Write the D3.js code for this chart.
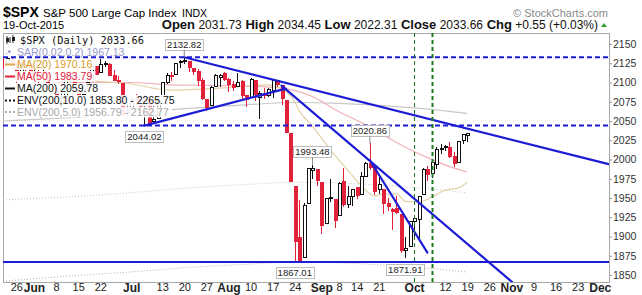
<!DOCTYPE html>
<html>
<head>
<meta charset="utf-8">
<script src="https://cdn.jsdelivr.net/npm/d3@7/dist/d3.min.js"></script>
<style>
  body { margin: 0; background: #fff; }
  svg { display: block; font-family: "Liberation Sans", Arial, sans-serif; }
</style>
</head>
<body>
<script>
// ---- daily OHLC, $SPX
var dates = [
  "2015-05-20","2015-05-21","2015-05-22","2015-05-26","2015-05-27","2015-05-28","2015-05-29",
  "2015-06-01","2015-06-02","2015-06-03","2015-06-04","2015-06-05","2015-06-08","2015-06-09","2015-06-10","2015-06-11","2015-06-12",
  "2015-06-15","2015-06-16","2015-06-17","2015-06-18","2015-06-19","2015-06-22","2015-06-23","2015-06-24","2015-06-25","2015-06-26","2015-06-29","2015-06-30",
  "2015-07-01","2015-07-02","2015-07-06","2015-07-07","2015-07-08","2015-07-09","2015-07-10","2015-07-13","2015-07-14","2015-07-15","2015-07-16","2015-07-17",
  "2015-07-20","2015-07-21","2015-07-22","2015-07-23","2015-07-24","2015-07-27","2015-07-28","2015-07-29","2015-07-30","2015-07-31",
  "2015-08-03","2015-08-04","2015-08-05","2015-08-06","2015-08-07","2015-08-10","2015-08-11","2015-08-12","2015-08-13","2015-08-14",
  "2015-08-17","2015-08-18","2015-08-19","2015-08-20","2015-08-21","2015-08-24","2015-08-25","2015-08-26","2015-08-27","2015-08-28","2015-08-31",
  "2015-09-01","2015-09-02","2015-09-03","2015-09-04","2015-09-08","2015-09-09","2015-09-10","2015-09-11","2015-09-14","2015-09-15","2015-09-16","2015-09-17","2015-09-18",
  "2015-09-21","2015-09-22","2015-09-23","2015-09-24","2015-09-25","2015-09-28","2015-09-29","2015-09-30",
  "2015-10-01","2015-10-02","2015-10-05","2015-10-06","2015-10-07","2015-10-08","2015-10-09","2015-10-12","2015-10-13","2015-10-14","2015-10-15","2015-10-16","2015-10-19"
];
var opens = [
  2127.8,2125.6,2130.4,2125.3,2105.1,2122.3,2120.7,
  2108.6,2110.4,2110.6,2112.4,2095.1,2092.3,2079.1,2081.0,2106.2,2107.4,
  2091.3,2084.3,2097.4,2101.6,2121.1,2112.5,2123.2,2123.6,2109.1,2102.6,2098.6,2061.2,
  2067.0,2078.0,2073.0,2069.5,2077.7,2049.7,2052.7,2080.0,2099.7,2109.0,2110.6,2126.8,
  2126.9,2127.6,2118.2,2114.2,2102.2,2078.2,2070.7,2094.7,2106.8,2111.6,
  2104.5,2097.7,2095.3,2100.8,2082.6,2081.0,2102.7,2081.1,2086.2,2083.2,
  2089.7,2102.0,2095.7,2076.6,2034.1,1965.2,1898.1,1872.8,1942.8,1986.1,1986.7,
  1970.1,1916.5,1950.8,1947.8,1927.3,1971.5,1941.6,1951.5,1963.1,1955.1,1978.0,1995.3,1989.7,
  1960.8,1961.4,1943.2,1934.8,1935.9,1929.2,1881.9,1887.1,
  1919.7,1921.8,1954.3,1986.6,1982.3,1994.0,2013.7,2015.7,2015.0,2003.7,1996.5,2024.4,2031.73
];
var highs = [
  2133.0,2134.3,2133.0,2126.2,2126.2,2122.3,2120.7,
  2119.2,2117.6,2121.9,2112.9,2100.0,2093.0,2085.6,2108.5,2115.0,2107.4,
  2091.3,2097.4,2106.8,2126.6,2121.6,2129.9,2128.0,2125.1,2116.0,2108.9,2098.6,2074.3,
  2082.8,2085.1,2078.6,2083.7,2077.7,2074.3,2081.3,2100.7,2112.0,2114.1,2124.4,2128.9,
  2132.82,2128.4,2118.5,2116.9,2106.0,2078.2,2095.6,2110.6,2110.5,2114.2,
  2105.7,2102.5,2112.7,2103.3,2082.6,2105.4,2102.7,2089.1,2092.9,2092.5,
  2102.9,2103.5,2096.2,2076.6,2034.1,1965.2,1948.0,1943.1,1989.6,1993.48,1986.7,
  1970.1,1948.9,1975.0,1947.8,1970.4,1988.6,1965.3,1961.1,1963.1,1983.2,1997.3,2020.86,1989.7,
  1979.6,1961.4,1949.5,1937.2,1952.9,1929.2,1899.5,1920.5,
  1927.2,1951.4,1989.2,1991.6,1999.3,2016.5,2020.1,2018.7,2022.3,2009.6,2024.2,2033.5,2034.45
];
var lows = [
  2117.7,2122.6,2126.1,2099.2,2105.1,2112.9,2104.9,
  2102.5,2099.1,2109.6,2093.2,2085.7,2079.1,2072.1,2081.0,2106.2,2091.3,
  2072.5,2082.1,2088.9,2101.6,2109.5,2112.5,2119.9,2108.0,2101.8,2098.0,2056.6,2056.3,
  2067.0,2071.0,2058.4,2044.02,2044.5,2049.7,2052.7,2080.0,2098.2,2102.5,2110.6,2119.4,
  2123.7,2114.0,2110.0,2095.3,2077.1,2063.5,2069.1,2094.1,2094.1,2102.1,
  2087.3,2088.6,2095.3,2075.5,2067.9,2081.0,2076.5,2052.1,2078.3,2080.6,
  2079.3,2094.1,2070.5,2035.7,1970.9,1867.01,1867.1,1872.8,1942.8,1975.2,1966.0,
  1903.1,1916.5,1944.7,1911.2,1927.3,1937.9,1937.2,1939.2,1948.3,1954.3,1977.9,1986.7,1953.5,
  1955.8,1929.2,1932.6,1908.9,1929.8,1879.2,1871.91,1887.1,
  1900.7,1893.7,1954.3,1972.0,1976.4,1987.5,2007.6,2010.6,2001.8,1990.7,1996.5,2020.5,2022.31
];
var closes = [
  2125.9,2130.8,2126.1,2104.2,2123.5,2120.8,2107.4,
  2111.7,2109.6,2114.1,2095.8,2092.8,2079.3,2080.2,2105.2,2108.9,2094.1,
  2084.4,2096.3,2100.4,2121.2,2110.0,2122.9,2124.2,2108.6,2102.3,2101.5,2057.6,2063.1,
  2077.4,2076.8,2068.8,2081.3,2046.7,2051.3,2076.6,2099.6,2109.0,2107.4,2124.3,2126.6,
  2128.3,2119.2,2114.2,2102.2,2079.7,2067.6,2093.3,2108.6,2108.6,2104.0,
  2098.0,2093.3,2099.8,2083.6,2077.6,2104.2,2084.1,2086.1,2083.4,2091.5,
  2102.4,2096.9,2079.6,2035.7,1970.9,1893.2,1867.6,1940.5,1987.7,1988.9,1972.2,
  1913.9,1948.9,1951.1,1921.2,1969.4,1942.0,1952.3,1961.1,1953.0,1978.1,1995.3,1990.2,1958.0,
  1967.0,1942.7,1938.8,1932.2,1931.3,1881.8,1884.1,1920.0,
  1923.8,1951.4,1987.1,1979.9,1995.8,2013.4,2014.9,2017.5,2003.7,1994.2,2023.9,2033.1,2033.66
];

// ---- overlays
var ma20 = [["2015-05-20",2105],["2015-06-01",2108],["2015-06-15",2103],["2015-06-30",2099],["2015-07-15",2090],
  ["2015-07-31",2093],["2015-08-14",2097],["2015-08-21",2083.5],["2015-08-24",2074.7],["2015-08-25",2063.5],
  ["2015-08-28",2043.3],["2015-09-01",2028],["2015-09-04",2006],["2015-09-08",1999.3],["2015-09-11",1979.4],
  ["2015-09-15",1966.2],["2015-09-18",1952.8],["2015-09-22",1955],["2015-09-25",1955.4],["2015-09-29",1945.6],
  ["2015-10-02",1944.7],["2015-10-07",1951.2],["2015-10-12",1960.2],["2015-10-15",1963.1],["2015-10-19",1970.16]];
var ma50 = [["2015-05-20",2093],["2015-06-15",2100],["2015-07-01",2100],["2015-07-15",2097],["2015-07-31",2096],
  ["2015-08-14",2094],["2015-08-20",2092],["2015-08-31",2079],["2015-09-08",2062],["2015-09-15",2048],
  ["2015-09-22",2032],["2015-09-29",2016],["2015-10-05",2005],["2015-10-12",1993],["2015-10-19",1983.79]];
var ma200 = [["2015-05-20",2050],["2015-06-15",2055],["2015-07-01",2060],["2015-07-20",2066],["2015-08-07",2071],
  ["2015-08-24",2074],["2015-09-08",2073],["2015-09-22",2070],["2015-10-05",2066],["2015-10-19",2059.78]];
var env5Lower = [["2015-05-20",1947.5],["2015-06-15",1952.3],["2015-07-01",1957],["2015-07-20",1962.7],["2015-08-07",1967.5],
  ["2015-08-24",1970.3],["2015-09-08",1969.4],["2015-09-22",1966.5],["2015-10-05",1962.7],["2015-10-19",1956.79]];
var env10Lower = [["2015-05-20",1842],["2015-06-15",1849.5],["2015-07-01",1854],["2015-07-20",1859.4],["2015-08-07",1863.9],
  ["2015-08-24",1866.6],["2015-09-08",1865.7],["2015-09-22",1863],["2015-10-05",1859.4],["2015-10-19",1853.80]];

// trend lines [date, price] -> [date, price]
var trendLines = [
  [["2015-07-20",2132.82],["2015-12-03",1994]],
  [["2015-07-07",2044.02],["2015-08-20",2092]],
  [["2015-08-19",2096],["2015-11-05",1827]],
  [["2015-09-17",1999],["2015-10-06",1879]]
];
var dashedLevels = [2132.82, 2044.02];
var solidLevels = [1867.01];
var markerDays = ["2015-10-01","2015-10-07"];

// price callouts
var callouts = [["2015-07-20",2132.82,"high"],["2015-07-07",2044.02,"low"],["2015-08-28",1993.48,"high"],
  ["2015-09-17",2020.86,"high"],["2015-08-24",1867.01,"low"],["2015-09-29",1871.91,"low"]];

var yTicks = [1850,1875,1900,1925,1950,1975,2000,2025,2050,2075,2100,2125,2150];
var xTickDays = ["2015-05-26","2015-06-01","2015-06-08","2015-06-15","2015-06-22","2015-07-01","2015-07-13","2015-07-20","2015-07-27",
  "2015-08-03","2015-08-10","2015-08-17","2015-08-24","2015-09-01","2015-09-08","2015-09-14","2015-09-21","2015-10-01",
  "2015-10-12","2015-10-19","2015-10-26","2015-11-02","2015-11-09","2015-11-16","2015-11-23","2015-12-01"];
var xTickText = ["26","Jun","8","15","22","Jul","13","20","27","Aug","10","17","24","Sep","8","14","21","Oct",
  "12","19","26","Nov","9","16","23","Dec"];

var quoteLabels = ["Open","High","Low","Close","Chg"];
var quoteValues = ["2031.73","2034.45","2022.31","2033.66","+0.55 (+0.03%)"];

// ---- layout
var svgW = 642, svgH = 295;
var plotL = 3, plotR = 609, plotT = 33, plotB = 282;

var holidays = ["2015-05-25","2015-07-03","2015-09-07","2015-11-26"];
var fmtDay = d3.utcFormat("%Y-%m-%d");
var tradingDays = d3.utcDay.range(new Date("2015-05-19"), new Date("2015-12-05"))
                    .filter(function(d){ var w = d.getUTCDay(); return w != 0 && w != 6; })
                    .map(fmtDay)
                    .filter(function(d){ return holidays.indexOf(d) < 0; });
var baseIdx = tradingDays.indexOf("2015-06-01");
var dayIdx = new Map(tradingDays.map(function(d, i){ return [d, i - baseIdx]; }));

var xScale = d3.scaleLinear().domain([-7.01, 130.09]).range([plotL, plotR]);
var yScale = d3.scaleLinear().domain([1850, 2150]).range([275, 44]);
function xDay(d){ return xScale(dayIdx.get(d)); }

var svg = d3.select("body").append("svg")
            .attr("width", svgW)
            .attr("height", svgH);

svg.append("defs").append("clipPath").attr("id", "plotClip")
   .append("rect").attr("x", plotL).attr("y", plotT).attr("width", plotR - plotL).attr("height", plotB - plotT);

// ---- header
svg.append("text").attr("x", 3).attr("y", 17).attr("font-size", "14px").attr("font-weight", "bold").text("$SPX");
svg.append("text").attr("x", 43).attr("y", 17).attr("font-size", "11.5px").text("S&P 500 Large Cap Index");
svg.append("text").attr("x", 182).attr("y", 17).attr("font-size", "10.5px").text("INDX");
svg.append("text").attr("x", 3).attr("y", 29).attr("font-size", "11px").text("19-Oct-2015");
svg.append("text").attr("x", 608).attr("y", 17).attr("text-anchor", "end")
   .attr("font-size", "11px").attr("fill", "#8a8a8a").text("\u00a9 StockCharts.com");

var quote = svg.append("text").attr("x", 598).attr("y", 29).attr("text-anchor", "end").attr("fill", "#111");
quoteLabels.forEach(function(l, i){
  quote.append("tspan").attr("font-weight", "bold").attr("font-size", "13px").text((i ? "  " : "") + l);
  quote.append("tspan").attr("font-size", "12px").text(" " + quoteValues[i]);
});
svg.append("path").attr("d", "M601,27L607,27L604,23Z").attr("fill", "#2e9e2e");

// ---- plot frame
svg.append("rect").attr("x", plotL + 0.5).attr("y", plotT + 0.5)
   .attr("width", plotR - plotL).attr("height", plotB - plotT)
   .attr("fill", "none").attr("stroke", "#a8a8a8");

var plot = svg.append("g").attr("clip-path", "url(#plotClip)");

// ---- indicator lines
var line = d3.line()
             .x(function(d){ return xDay(d[0]); })
             .y(function(d){ return yScale(d[1]); })
             .curve(d3.curveMonotoneX);

plot.append("path").attr("d", line(env10Lower)).attr("fill", "none")
    .attr("stroke", "#c4a8a8").attr("stroke-width", 1).attr("stroke-dasharray", "1,2");
plot.append("path").attr("d", line(env5Lower)).attr("fill", "none")
    .attr("stroke", "#c4c4c4").attr("stroke-width", 1).attr("stroke-dasharray", "1,2");
plot.append("path").attr("d", line(ma200)).attr("fill", "none").attr("stroke", "#c8c8c8").attr("stroke-width", 1.2);
plot.append("path").attr("d", line(ma50)).attr("fill", "none").attr("stroke", "#f2b2b8").attr("stroke-width", 1.2);
plot.append("path").attr("d", line(ma20)).attr("fill", "none").attr("stroke", "#e3d2a8").attr("stroke-width", 1.2);

// ---- candles
var candles = plot.selectAll("g.candle")
                  .data(dates)
                  .enter()
                  .append("g")
                  .attr("class", "candle")
                  .attr("shape-rendering", "crispEdges");

function candleColor(i){
  var prev = i > 0 ? closes[i - 1] : opens[i];
  return closes[i] >= prev ? "#111" : "#e2213b";
}

candles.append("line")
       .attr("x1", function(d){ return Math.round(xDay(d)) + 0.5; })
       .attr("x2", function(d){ return Math.round(xDay(d)) + 0.5; })
       .attr("y1", function(d, i){ return yScale(highs[i]); })
       .attr("y2", function(d, i){ return yScale(lows[i]); })
       .attr("stroke", function(d, i){ return candleColor(i); });

candles.append("rect")
       .attr("x", function(d){ return Math.round(xDay(d)) - 1; })
       .attr("y", function(d, i){ return yScale(Math.max(opens[i], closes[i])); })
       .attr("width", 3)
       .attr("height", function(d, i){ return Math.max(1, Math.abs(yScale(opens[i]) - yScale(closes[i]))); })
       .attr("fill", function(d, i){ return closes[i] > opens[i] ? "#fff" : candleColor(i); })
       .attr("stroke", function(d, i){ return candleColor(i); });

// ---- legend
var legend = svg.append("g").attr("id", "legend");
var legendRows = [
  {y: 44, text: "$SPX (Daily) 2033.66", color: "#111", mono: true},
  {y: 56, text: "SAR(0.02,0.2) 1967.13", color: "#9898cc", mark: "sar"},
  {y: 68, text: "MA(20) 1970.16", color: "#dc9c1e", mark: "#dca850"},
  {y: 80, text: "MA(50) 1983.79", color: "#e2213b", mark: "#e2213b"},
  {y: 92, text: "MA(200) 2059.78", color: "#111", mark: "#111"},
  {y: 104, text: "ENV(200,10.0) 1853.80 - 2265.75", color: "#111", mark: "dots", dot: "#111"},
  {y: 115.5, text: "ENV(200,5.0) 1956.79 - 2162.77", color: "#a8a8a8", mark: "dots", dot: "#a8a8a8"}
];
legendRows.forEach(function(r){
  var g = legend.append("g");
  var bg = g.append("rect").attr("fill", "#fff").attr("opacity", 0.92);
  var t = g.append("text").attr("x", r.mono ? 20 : 17).attr("y", r.y).attr("fill", r.color)
           .attr("font-size", "10.5px").text(r.text);
  if (r.mono) t.attr("font-family", "'DejaVu Sans Mono', monospace").attr("font-size", "10.3px");
  var bb = t.node().getBBox();
  bg.attr("x", plotL + 1).attr("y", bb.y + 1).attr("width", bb.x + bb.width + 2 - plotL).attr("height", bb.height - 1);
  if (r.mono) {
    g.append("path").attr("d", "M7,36v8M10,37v6M13,35v8").attr("stroke", "#222").attr("stroke-width", 1);
    g.append("path").attr("d", "M6,38h3v4h-3zM12,37h3v4h-3z").attr("fill", "#222");
  } else if (r.mark == "sar") {
    g.append("text").attr("x", 5).attr("y", r.y).attr("font-size", "9px").attr("fill", "#6a6ac8").text("\u2219*");
  } else if (r.mark == "dots") {
    g.append("line").attr("x1", 5).attr("x2", 15).attr("y1", r.y - 3.5).attr("y2", r.y - 3.5)
     .attr("stroke", r.dot).attr("stroke-width", 2).attr("stroke-dasharray", "2,2");
  } else {
    g.append("line").attr("x1", 5).attr("x2", 15).attr("y1", r.y - 3.5).attr("y2", r.y - 3.5)
     .attr("stroke", r.mark).attr("stroke-width", 2);
  }
});

// ---- horizontal levels, trend lines, markers
var blue = "#1d1dd6";
var levels = svg.append("g").attr("clip-path", "url(#plotClip)");

levels.selectAll("line.dash")
      .data(dashedLevels)
      .enter()
      .append("line")
      .attr("x1", plotL).attr("x2", plotR)
      .attr("y1", function(d){ return yScale(d); })
      .attr("y2", function(d){ return yScale(d); })
      .attr("stroke", blue).attr("stroke-width", 2).attr("stroke-dasharray", "5,3");

levels.selectAll("line.solid")
      .data(solidLevels)
      .enter()
      .append("line")
      .attr("x1", plotL).attr("x2", plotR)
      .attr("y1", function(d){ return yScale(d); })
      .attr("y2", function(d){ return yScale(d); })
      .attr("stroke", blue).attr("stroke-width", 2);

levels.selectAll("line.trend")
      .data(trendLines)
      .enter()
      .append("line")
      .attr("x1", function(d){ return xDay(d[0][0]); })
      .attr("y1", function(d){ return yScale(d[0][1]); })
      .attr("x2", function(d){ return xDay(d[1][0]); })
      .attr("y2", function(d){ return yScale(d[1][1]); })
      .attr("stroke", blue).attr("stroke-width", 2.2).attr("stroke-linecap", "round");

levels.selectAll("line.marker")
      .data(markerDays)
      .enter()
      .append("line")
      .attr("x1", function(d){ return Math.round(xDay(d)) + 0.5; })
      .attr("x2", function(d){ return Math.round(xDay(d)) + 0.5; })
      .attr("y1", plotT).attr("y2", plotB)
      .attr("stroke", "#1f7a1f")
      .attr("stroke-width", function(d, i){ return i ? 2 : 1; })
      .attr("stroke-dasharray", "4,3");

// ---- price callouts
var notes = svg.append("g").attr("font-size", "9.5px");
callouts.forEach(function(c){
  var cx = xDay(c[0]), py = yScale(c[1]);
  var cy = c[2] == "high" ? py - 13 : py + 11;
  var g = notes.append("g");
  var box = g.append("rect").attr("fill", "#fff").attr("stroke", "#bdbdbd");
  var t = g.append("text").attr("x", cx).attr("y", cy + 3.5).attr("text-anchor", "middle")
           .attr("fill", "#222").text(c[1].toFixed(2));
  var bb = t.node().getBBox();
  box.attr("x", Math.round(bb.x - 2) + 0.5).attr("y", Math.round(cy - 5.5) + 0.5)
     .attr("width", Math.round(bb.width + 4)).attr("height", 11);
  if (c[2] == "high") {
    g.append("line").attr("x1", cx).attr("x2", cx).attr("y1", cy + 6).attr("y2", py)
     .attr("stroke", "#666").attr("stroke-width", 0.8);
  }
});

// ---- axes
var yAxis = d3.axisRight(yScale)
              .tickValues(yTicks)
              .tickFormat(d3.format("d"))
              .tickSize(3)
              .tickPadding(1);
var yG = svg.append("g")
            .attr("transform", "translate(" + plotR + ",0)")
            .call(yAxis);
yG.select(".domain").remove();
yG.selectAll("line").attr("stroke", "#999");
yG.selectAll("text").attr("font-family", "'Liberation Sans', Arial, sans-serif")
  .attr("font-size", "10.5px").attr("fill", "#333");

var xAxis = d3.axisBottom(xScale)
              .tickValues(xTickDays.map(function(d){ return dayIdx.get(d); }))
              .tickFormat(function(d, i){ return xTickText[i]; })
              .tickSize(0)
              .tickPadding(1);
var xG = svg.append("g")
            .attr("transform", "translate(0," + plotB + ")")
            .call(xAxis);
xG.select(".domain").remove();
xG.selectAll("text")
  .attr("font-family", "'Liberation Sans', Arial, sans-serif")
  .attr("fill", "#222")
  .attr("font-size", function(d, i){ return isNaN(+xTickText[i]) ? "12px" : "11px"; })
  .attr("font-weight", function(d, i){ return isNaN(+xTickText[i]) ? "bold" : "normal"; });
</script>
</body>
</html>
